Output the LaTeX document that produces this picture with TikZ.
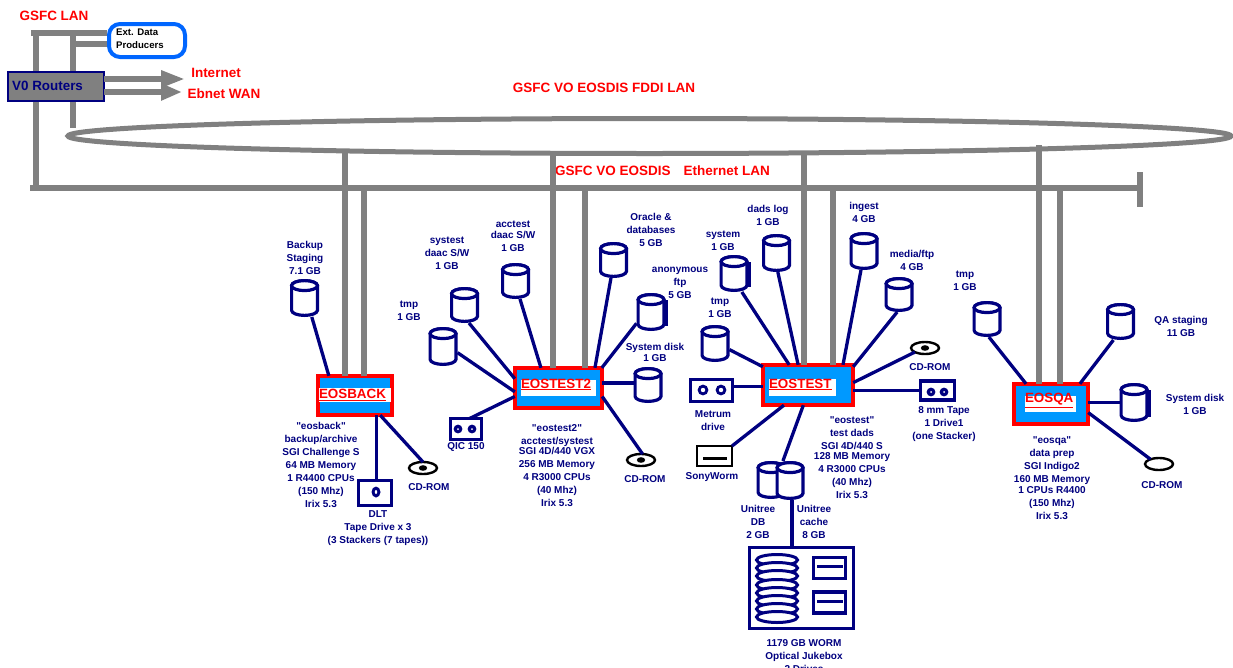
\documentclass[tikz,border=0pt]{standalone}
\usepackage{fontspec}
\setmainfont{Liberation Sans}
\newfontfamily\plainf{Liberation Sans}
\usetikzlibrary{shapes.geometric,arrows.meta}
\definecolor{nv}{RGB}{0,0,128}
\definecolor{gr}{RGB}{128,128,128}
\definecolor{rd}{RGB}{255,0,0}
\definecolor{bl}{RGB}{0,153,255}
\definecolor{eb}{RGB}{0,102,255}
\tikzset{
  lan/.style={draw=gr,line width=5.8pt},
  link/.style={draw=nv,line width=3.3pt},
  lbl/.style={text=nv,font=\fontsize{10}{13}\plainf\bfseries\selectfont,align=center,inner sep=0pt,outer sep=0pt,yshift=-1.2pt},
  rlbl/.style={text=rd,font=\fontsize{13.5}{16}\selectfont\bfseries,inner sep=0pt,outer sep=0pt},
  hostbox/.style={draw=rd,fill=bl,line width=3.6pt,inner sep=0pt,outer sep=0pt},
  hostbar/.style={fill=white,inner sep=0pt,outer sep=0pt},
  hosttxt/.style={text=rd,font=\fontsize{13.4}{16}\selectfont\bfseries,anchor=west,inner sep=0pt,outer sep=0pt},
  dskbox/.style={inner sep=0pt,outer sep=0pt,minimum width=29pt},
  dskline/.style={draw=nv,line width=3.2pt},
  tapebox/.style={draw=nv,fill=white,line width=3.2pt,inner sep=0pt,outer sep=0pt},
  cdrom/.style={ellipse,draw=black,fill=white,line width=2.4pt,inner sep=0pt,outer sep=0pt,minimum width=28pt,minimum height=12pt},
}
\newcommand\dsk[4]{%
  \pgfmathsetmacro\dskm{(#3+#4)/2}\pgfmathsetmacro\dskh{#4-#3}%
  \pgfmathsetmacro\dskl{#2-12.9}\pgfmathsetmacro\dskr{#2+12.9}%
  \pgfmathsetmacro\dskt{#3+6.6}\pgfmathsetmacro\dskb{#4-6.6}%
  \node[dskbox,minimum height=\dskh pt] (#1) at (#2,\dskm) {};
  \draw[dskline,fill=white] (\dskl,\dskt) -- (\dskl,\dskb) arc[start angle=180,end angle=360,x radius=12.9pt,y radius=5pt] -- (\dskr,\dskt) arc[start angle=0,end angle=180,x radius=12.9pt,y radius=5pt] -- cycle;
  \draw[dskline,fill=white] (#2,\dskt) ellipse[x radius=12.9pt,y radius=5pt];
}
\newcommand\dskwall[1]{\draw[dskline] ([yshift=-7pt,xshift=0.6pt]#1.north east) -- ([yshift=5pt,xshift=0.6pt]#1.south east);}
\newcommand\ring[2]{\fill[nv] (#1,#2) circle[radius=5.4pt];\fill[white] (#1,#2) circle[radius=2.2pt];}
\newcommand\dotty[2]{\fill[nv] (#1,#2) circle[radius=4.4pt];\fill[white] (#1,#2) circle[radius=1pt];}
\newcommand\cdhole[2]{\fill[black] (#1,#2) ellipse[x radius=4.2pt,y radius=2.8pt];}
\newcommand\uline[1]{$\underline{\hbox{#1}}$}
\begin{document}
\begin{tikzpicture}[x=1pt,y=-1pt]
\clip (0,0) rectangle (1233,667);
\useasboundingbox (0,0) rectangle (1233,667);
\fill[white] (0,0) rectangle (1233,667);

% named free ends
\coordinate (lanL) at (31,33);
\coordinate (lanA) at (36,33);
\coordinate (lanB) at (36,188);
\coordinate (lanC) at (73,33);
\coordinate (lanD) at (73,128);
\coordinate (lanE) at (73,44);
\coordinate (trunkL) at (30,188);
\coordinate (trunkR) at (1140,188);
\coordinate (capT) at (1140,172);
\coordinate (capB) at (1140,207);
\coordinate (inetTip) at (185,79);
\coordinate (ebTip) at (182,92);
\coordinate (bkA) at (345,153);
\coordinate (bkB) at (364,188);
\coordinate (t2A) at (553,153);
\coordinate (t2B) at (585,188);
\coordinate (teA) at (804,153);
\coordinate (teB) at (833,188);
\coordinate (qaA) at (1039,145);
\coordinate (qaB) at (1060,188);

% LAN
\node[ellipse,draw=gr,line width=5pt,inner sep=0pt,outer sep=0pt,minimum width=1163pt,minimum height=35pt] (fddi) at (649.5,136) {};
\node[draw=eb,fill=white,line width=4pt,rounded corners=11pt,inner sep=0pt,outer sep=0pt,minimum width=76pt,minimum height=33pt] (ext) at (147,40.5) {};
\draw[lan,shorten >=2pt] (lanL) -- (lanL -| ext.west);
\draw[lan,shorten >=2pt] (lanE) -- (lanE -| ext.west);
\draw[lan] (lanA) -- (lanB);
\draw[lan] (lanC) -- (lanD);
\draw[lan] (trunkL) -- (trunkR);
\draw[draw=gr,line width=5.8pt] (capT) -- (capB);
\node[anchor=west,text=black,font=\fontsize{9.6}{13}\selectfont\bfseries,align=left,inner sep=0pt] (exttxt) at (116,38.5) {Ext. Data\\Producers};
\node[draw=nv,fill=gr,line width=2.4pt,inner sep=0pt,outer sep=0pt,minimum width=96pt,minimum height=29pt] (routers) at (56,86.5) {};
\draw[lan,-{Triangle[length=24pt,width=16pt]}] (inetTip -| routers.east) -- (inetTip);
\draw[lan,-{Triangle[length=21pt,width=16pt]}] (ebTip -| routers.east) -- (ebTip);
\node[anchor=west,text=nv,font=\fontsize{13.4}{16}\selectfont\bfseries,inner sep=0pt] (routerstxt) at (12,86) {V0 Routers};

\node[rlbl] (lGsfc) at (54,16) {GSFC LAN};
\node[rlbl] (lInet) at (216,72.5) {Internet};
\node[rlbl] (lEb) at (224,94) {Ebnet WAN};
\node[rlbl] (lFddi) at (604,88) {GSFC VO EOSDIS FDDI LAN};
\node[rlbl,anchor=west] (lEth) at (555,171) {GSFC VO EOSDIS\hspace{13pt}Ethernet LAN};

% hosts
\node[hostbox,minimum width=74.4pt,minimum height=39.4pt] (eosback) at (355,395.5) {};
\node[hostbar,minimum width=72pt,minimum height=14pt] (barB) at (355,395) {};
\node[hosttxt] (txtB) at (319,395) {\uline{EOSBACK}};
\node[hostbox,minimum width=87.4pt,minimum height=40.4pt] (eostest2) at (558.5,388) {};
\node[hostbar,minimum width=75pt,minimum height=16pt] (barT2) at (558.5,388) {};
\node[hosttxt] (txtT2) at (521,384.5) {\uline{EOSTEST2}};
\node[hostbox,minimum width=90.4pt,minimum height=40.4pt] (eostest) at (808,385) {};
\node[hostbar,minimum width=67pt,minimum height=17pt] (barT) at (802.5,387.5) {};
\node[hosttxt] (txtT) at (769,384.5) {\uline{EOSTEST}};
\node[hostbox,minimum width=74.4pt,minimum height=40.4pt] (eosqa) at (1051,404) {};
\node[hostbar,minimum width=51pt,minimum height=16pt] (barQ) at (1050.5,404) {};
\node[hosttxt] (txtQ) at (1025,400.5) {\uline{EOSQA}};

% LAN drops
\draw[lan] (bkA) -- (bkA |- eosback.north);
\draw[lan] (bkB) -- (bkB |- eosback.north);
\draw[lan] (t2A) -- (t2A |- eostest2.north);
\draw[lan] (t2B) -- (t2B |- eostest2.north);
\draw[lan] (teA) -- (teA |- eostest.north);
\draw[lan] (teB) -- (teB |- eostest.north);
\draw[lan] (qaA) -- (qaA |- eosqa.north);
\draw[lan] (qaB) -- (qaB |- eosqa.north);

% disks
\dsk{dBackup}{304.5}{279}{317}
\dsk{dTmp2}{443}{327}{366}
\dsk{dSystest}{464.5}{287}{323}
\dsk{dAcctest}{515.5}{263}{299}
\dsk{dOracle}{613.5}{242}{278}
\dsk{dAnon}{651}{293}{331}\dskwall{dAnon}
\dsk{dSys2}{648}{367}{403}
\dsk{dSystem}{734}{255}{292}\dskwall{dSystem}
\dsk{dDads}{776.5}{234}{272}
\dsk{dIngest}{864}{232}{270}
\dsk{dMedia}{899}{277}{312}
\dsk{dTmpT}{715}{325}{362}
\dsk{dTmpQ}{987}{301}{337}
\dsk{dQA}{1120.5}{303}{340}
\dsk{dSysQ}{1134}{383}{422}\dskwall{dSysQ}
\dsk{dDB}{771}{461}{499}
\dsk{dCache}{790}{461}{500}

% CD-ROMs
\node[cdrom] (cdB) at (423,468) {}; \cdhole{423}{468}
\node[cdrom] (cdT2) at (641,460) {}; \cdhole{641}{460}
\node[cdrom] (cdT) at (925,348) {}; \cdhole{925}{348}
\node[cdrom] (cdQ) at (1159,464) {};

% tapes
\node[tapebox,minimum width=31pt,minimum height=21pt] (qic) at (466,429) {}; \dotty{458}{429}\dotty{472}{429}
\node[tapebox,minimum width=42pt,minimum height=22pt] (metrum) at (711.5,390.5) {}; \ring{703}{390}\ring{721}{390}
\node[tapebox,minimum width=34pt,minimum height=19pt] (mm8) at (937.5,390.5) {}; \dotty{931}{392}\dotty{944}{392}
\node[draw=black,fill=white,line width=2.8pt,inner sep=0pt,outer sep=0pt,minimum width=35pt,minimum height=20pt] (sony) at (714.5,456) {};
\draw[draw=black,line width=3pt] (703,458) -- (727,458);
\node[tapebox,minimum width=33pt,minimum height=25pt] (dlt) at (375,493) {};
\fill[nv] (376,492) ellipse[x radius=4.5pt,y radius=5.5pt]; \fill[white] (376,492) ellipse[x radius=1.2pt,y radius=2pt];

% jukebox
\node[draw=nv,fill=white,line width=3.2pt,inner sep=0pt,outer sep=0pt,minimum width=104pt,minimum height=81pt] (juke) at (801.5,588) {};
\foreach \py in {560,568,576,585,593,601,609,617}
  \draw[draw=nv,fill=white,line width=3pt] (777,\py) ellipse[x radius=20.5pt,y radius=5.5pt];
\node[tapebox,minimum width=32pt,minimum height=21pt] (drv1) at (829.5,568) {};
\draw[draw=nv,line width=3pt] (817,566) -- (843,566);
\node[tapebox,minimum width=32pt,minimum height=21pt] (drv2) at (829.5,602.5) {};
\draw[draw=nv,line width=3pt] (817,601) -- (843,601);

% connectors
\draw[link] (dBackup.-69) -- (eosback.143);
\draw[link] (dlt.83) -- (dlt.83 |- eosback.south);
\draw[link] (cdB.north) -- (eosback.-38);
\draw[link] (dTmp2.-23) -- (eostest2.185);
\draw[link] (dSystest.-76) -- (eostest2.168);
\draw[link] (dAcctest.-76) -- (eostest2.131.6);
\draw[link] (dOracle.-98) -- (eostest2.29.7);
\draw[link] (dAnon.218) -- (eostest2.25);
\draw[link] (dSys2.172) -- (dSys2.172 -| eostest2.east);
\draw[link] (cdT2.75) -- (eostest2.-11);
\draw[link] (qic.71) -- (eostest2.191);
\draw[link] (dTmpT.-23) -- (eostest.158);
\draw[link] (dSystem.-67) -- (eostest.133.7);
\draw[link] (dDads.-86) -- (eostest.116.6);
\draw[link] (dIngest.-99) -- (eostest.30);
\draw[link] (dMedia.-96) -- (eostest.22.7);
\draw[link] (cdT.202) -- (eostest.3.6);
\draw[link] (mm8.west) -- (mm8.west -| eostest.east);
\draw[link] (metrum.11) -- (metrum.11 -| eostest.west);
\draw[link] (sony.north east) -- (eostest.220);
\draw[link] (dCache.110) -- (eostest.257);
\draw[link] (dCache.-84) -- (dCache.-84 |- juke.north);
\draw[link] (dTmpQ.-84) -- (eosqa.141);
\draw[link] (dQA.-111) -- (eosqa.35);
\draw[link] (dSysQ.west) -- (dSysQ.west -| eosqa.east);
\draw[link] (cdQ.151) -- (eosqa.-13);

% labels
\node[lbl] (l1) at (305,257) {Backup\\Staging\\7.1 GB};
\node[lbl] (l2) at (447,252) {systest\\daac S/W\\1 GB};
\node[lbl] (l3) at (513,235) {acctest\\[-2pt]daac S/W\\1 GB};
\node[lbl] (l4) at (409,310) {tmp\\1 GB};
\node[lbl] (l5) at (651,229) {Oracle \&\\databases\\5 GB};
\node[lbl] (l6) at (680,282) {anonymous\\ftp\\5 GB};
\node[lbl] (l7) at (655,351) {System disk\\[-2pt]1 GB};
\node[lbl] (l8) at (557,464) {"eostest2"\\acctest/systest\\[-3pt]SGI 4D/440 VGX\\256 MB Memory\\4 R3000 CPUs\\(40 Mhz)\\Irix 5.3};
\node[lbl] (l9) at (321,464) {"eosback"\\backup/archive\\SGI Challenge S\\64 MB Memory\\1 R4400 CPUs\\(150 Mhz)\\Irix 5.3};
\node[lbl] (l10) at (378,527) {DLT\\Tape Drive x 3\\(3 Stackers (7 tapes))};
\node[lbl] (l11) at (466,446) {QIC 150};
\node[lbl] (l12) at (429,486) {CD-ROM};
\node[lbl] (l13) at (645,478) {CD-ROM};
\node[lbl] (l14) at (768,214) {dads log\\1 GB};
\node[lbl] (l15) at (723,240) {system\\1 GB};
\node[lbl] (l16) at (864,211) {ingest\\4 GB};
\node[lbl] (l17) at (912,259) {media/ftp\\4 GB};
\node[lbl] (l18) at (720,307) {tmp\\1 GB};
\node[lbl] (l19) at (965,280) {tmp\\1 GB};
\node[lbl] (l20) at (930,366) {CD-ROM};
\node[lbl] (l21) at (713,419.5) {Metrum\\drive};
\node[lbl] (l22) at (944,423) {8 mm Tape\\1 Drive1\\(one Stacker)};
\node[lbl] (l23) at (712,476) {SonyWorm};
\node[lbl] (l24) at (852,456) {"eostest"\\test dads\\SGI 4D/440 S\\[-3pt]128 MB Memory\\4 R3000 CPUs\\(40 Mhz)\\Irix 5.3};
\node[lbl] (l25) at (758,521) {Unitree\\DB\\2 GB};
\node[lbl] (l26) at (814,521) {Unitree\\cache\\8 GB};
\node[lbl] (l27) at (804,655) {1179 GB WORM\\Optical Jukebox\\2 Drives};
\node[lbl] (l28) at (1181,325) {QA staging\\11 GB};
\node[lbl] (l29) at (1195,403) {System disk\\1 GB};
\node[lbl] (l30) at (1162,484) {CD-ROM};
\node[lbl] (l31) at (1052,477) {"eosqa"\\data prep\\SGI Indigo2\\160 MB Memory\\[-2pt]1 CPUs R4400\\(150 Mhz)\\Irix 5.3};
\end{tikzpicture}
\end{document}
